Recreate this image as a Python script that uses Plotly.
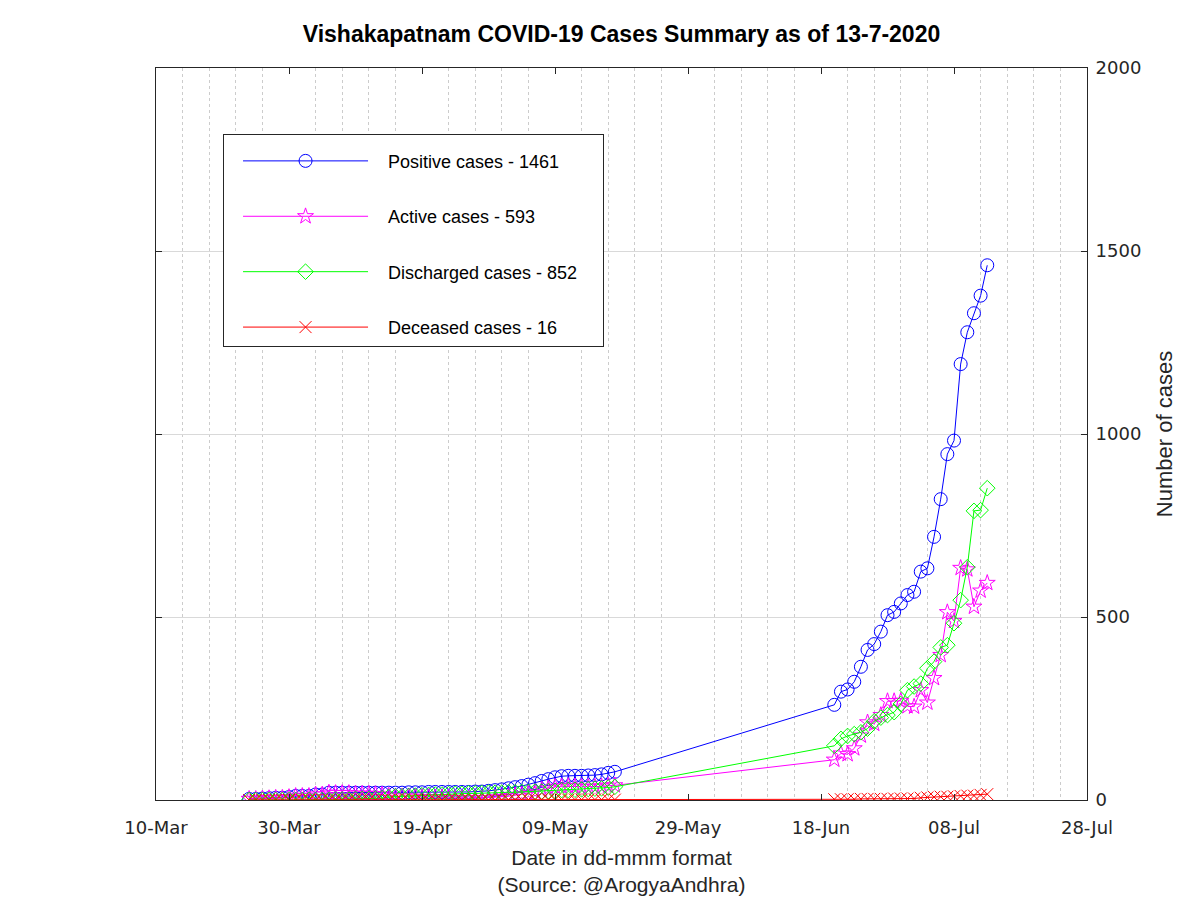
import plotly.graph_objects as go
import pandas as pd

# ---- Data ----
dates_part1 = pd.date_range("2020-03-24", "2020-05-18", freq="D")
dates_part2 = pd.date_range("2020-06-20", "2020-07-13", freq="D")
dates = list(dates_part1) + list(dates_part2)

positive = [
    3, 3, 4, 5, 6, 6, 8, 11,
    11, 11, 15, 15, 20, 20, 20, 20, 20, 20,
    20, 20, 20, 20, 20, 20, 21, 21, 21, 22,
    22, 22, 22, 22, 22, 22, 23, 23, 25, 27,
    29, 32, 35, 38, 42, 46, 52, 57, 62, 65,
    66, 66, 66, 67, 68, 70, 74, 77,
    260, 296, 302, 323, 364, 410, 426, 460, 505, 514, 537, 560,
    569, 624, 633, 719, 822, 945, 982, 1191, 1278, 1330, 1378, 1461,
]
active = [
    3, 3, 4, 5, 6, 6, 8, 11,
    11, 11, 15, 15, 20, 19, 19, 19, 17, 17,
    17, 16, 15, 12, 10, 10, 10, 9, 8, 8,
    7, 7, 6, 5, 5, 4, 5, 4, 5, 7,
    8, 10, 13, 15, 19, 22, 28, 32, 36, 37,
    38, 37, 36, 36, 36, 37, 39, 40,
    110, 127, 125, 141, 176, 212, 208, 232, 270, 270, 271, 256,
    255, 300, 266, 333, 396, 513, 489, 634, 630, 528, 572, 593,
]
discharged = [
    0, 0, 0, 0, 0, 0, 0, 0,
    0, 0, 0, 0, 0, 1, 1, 1, 3, 3,
    3, 4, 5, 8, 10, 10, 11, 12, 13, 14,
    15, 15, 16, 17, 17, 18, 18, 19, 20, 20,
    20, 21, 21, 22, 22, 23, 23, 24, 25, 27,
    27, 28, 29, 30, 31, 32, 34, 36,
    148, 167, 175, 180, 185, 195, 215, 225, 232, 240, 262, 300,
    310, 318, 360, 378, 417, 423, 483, 546, 636, 790, 792, 852,
]
deceased = [
    0, 0, 0, 0, 0, 0, 0, 0,
    0, 0, 0, 0, 0, 0, 0, 0, 0, 0,
    0, 0, 0, 0, 0, 0, 0, 0, 0, 0,
    0, 0, 0, 0, 0, 0, 0, 0, 0, 0,
    1, 1, 1, 1, 1, 1, 1, 1, 1, 1,
    1, 1, 1, 1, 1, 1, 1, 1,
    2, 2, 2, 2, 3, 3, 3, 3, 3, 4, 4, 4,
    4, 6, 7, 8, 9, 9, 10, 11, 12, 12, 14, 16,
]

series_names = [
    "Positive cases - 1461",
    "Active cases - 593",
    "Discharged cases - 852",
    "Deceased cases - 16",
]
x_tick_start = "2020-03-10"
x_range = ["2020-03-10", "2020-07-28"]
y_range = [0, 2000]

DAY_MS = 86400000
FONT = "Liberation Sans, Arial, Helvetica, sans-serif"
TICKFONT = "DejaVu Sans, Liberation Sans, sans-serif"
NB = "\u00a0"

styles = [
    dict(color="#0000FF", symbol="circle-open", size=13),
    dict(color="#FF00FF", symbol="star-open", size=12),
    dict(color="#00FF00", symbol="diamond-open", size=12),
    dict(color="#FF0000", symbol="x-thin-open", size=12),
]

fig = go.Figure()
for i, (vals, name, st) in enumerate(zip([positive, active, discharged, deceased], series_names, styles)):
    fig.add_trace(go.Scatter(
        x=dates, y=vals, name=NB * 3 + name + NB * 4, mode="lines+markers",
        line=dict(color=st["color"], width=1),
        marker=dict(symbol=st["symbol"], size=st["size"], color=st["color"],
                    line=dict(color=st["color"], width=1)),
        legendgroup=f"g{i}",
    ))

# the page body adds an 8px offset, so margins are reduced by 8 on left/top
fig.update_layout(
    width=1200, height=900,
    margin=dict(l=148, r=121, t=60, b=108, autoexpand=False),
    paper_bgcolor="white", plot_bgcolor="white",
    font=dict(family=FONT, size=17, color="#262626"),
    title=dict(text="<b>Vishakapatnam COVID-19 Cases Summary as of 13-7-2020</b>",
               x=0.5, xref="paper", xanchor="center",
               y=1 - 26 / 900, yref="container", yanchor="middle",
               font=dict(family=FONT, size=23, color="#000000")),
    xaxis=dict(
        type="date", range=x_range,
        tickmode="linear", tick0=x_tick_start, dtick=20 * DAY_MS,
        tickformat="%d-%b",
        ticks="inside", ticklen=6, tickcolor="#262626",
        showline=True, linecolor="#262626", linewidth=1, mirror="ticks",
        showgrid=False, zeroline=False,
        minor=dict(tick0=x_tick_start, dtick=4 * DAY_MS, showgrid=True,
                   gridcolor="#cccccc", griddash="dot", gridwidth=1, ticks=""),
        tickfont=dict(family=TICKFONT, size=18, color="#262626"),
        ticklabelstandoff=11,
        title=dict(text="Date in dd-mmm format<br>(Source: @ArogyaAndhra)",
                   font=dict(family=FONT, size=21, color="#262626"), standoff=13),
        automargin=False,
    ),
    yaxis=dict(
        side="right", range=y_range, tickmode="linear", tick0=0, dtick=500,
        ticks="inside", ticklen=6, tickcolor="#262626",
        showline=True, linecolor="#262626", linewidth=1, mirror="ticks",
        showgrid=True, gridcolor="#d9d9d9", gridwidth=1, zeroline=False,
        tickfont=dict(family=TICKFONT, size=18, color="#262626"),
        ticklabelstandoff=4,
        title=dict(text="Number of cases", font=dict(family=FONT, size=22, color="#262626"), standoff=16),
        automargin=False,
    ),
    legend=dict(
        x=0.072, y=0.91, xanchor="left", yanchor="top",
        bgcolor="white", bordercolor="#262626", borderwidth=1,
        font=dict(family=FONT, size=18, color="#000000"),
        tracegroupgap=29, itemwidth=125, indentation=14,
        title=dict(text=" ", font=dict(size=6)),
    ),
    showlegend=True,
)

fig.write_html("out.html")
